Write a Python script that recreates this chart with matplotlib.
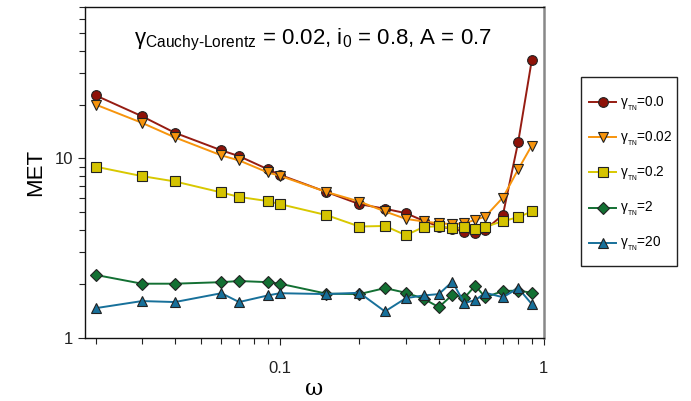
import matplotlib
matplotlib.use("Agg")
import matplotlib.pyplot as plt
from matplotlib.patches import Rectangle
from matplotlib.ticker import LogLocator, NullFormatter, FixedLocator, FixedFormatter

plt.rcParams['font.family'] = ['Liberation Sans', 'DejaVu Sans']
plt.rcParams['mathtext.fontset'] = 'custom'
plt.rcParams['mathtext.rm'] = 'Liberation Sans'
plt.rcParams['mathtext.it'] = 'Liberation Sans'
plt.rcParams['mathtext.default'] = 'regular'

omega = [0.02, 0.03, 0.04, 0.06, 0.07, 0.09, 0.1, 0.15, 0.2, 0.25, 0.3, 0.35,
         0.4, 0.45, 0.5, 0.55, 0.6, 0.7, 0.8, 0.9]

met_00 = [22.5, 17.2, 13.9, 11.1, 10.3, 8.7, 8.1, 6.5, 5.56, 5.24, 4.95, 4.49,
          4.17, 4.05, 3.91, 3.83, 4.0, 4.85, 12.4, 35.3]
met_002 = [20.0, 15.8, 13.1, 10.4, 9.75, 8.35, 8.0, 6.5, 5.75, 5.06, 4.6, 4.45,
           4.35, 4.3, 4.35, 4.54, 4.74, 6.05, 8.7, 11.8]
met_02 = [9.0, 7.97, 7.44, 6.46, 6.1, 5.78, 5.56, 4.83, 4.17, 4.2, 3.73, 4.14,
          4.19, 4.08, 4.12, 4.03, 4.15, 4.47, 4.7, 5.06]
met_2 = [2.24, 2.0, 2.0, 2.04, 2.07, 2.04, 2.0, 1.76, 1.75, 1.89, 1.78, 1.65,
         1.48, 1.73, 1.67, 1.95, 1.68, 1.82, 1.83, 1.78]
met_20 = [1.46, 1.6, 1.58, 1.77, 1.58, 1.72, 1.77, 1.75, 1.78, 1.4, 1.66, 1.72,
          1.75, 2.05, 1.56, 1.62, 1.78, 1.68, 1.89, 1.54]

labels = [r'$\gamma_{_{TN}}$=0.0', r'$\gamma_{_{TN}}$=0.02', r'$\gamma_{_{TN}}$=0.2',
          r'$\gamma_{_{TN}}$=2', r'$\gamma_{_{TN}}$=20']

fig = plt.figure(figsize=(6.91, 4.01), dpi=100)
ax = fig.add_axes([0.1226, 0.158, 0.787 - 0.1226, 0.9825 - 0.158])

series = [
    (met_00, 'o', '#961c12', '#8e1208', 7),
    (met_002, 'v', '#f7940c', '#f7940c', 7),
    (met_02, 's', '#d8c800', '#d4c300', 6.5),
    (met_2, 'D', '#137033', '#137033', 6),
    (met_20, '^', '#17709a', '#17709a', 7),
]
for (vals, mk, lc, fc, ms), lab in zip(series, labels):
    ax.plot(omega, vals, color=lc, marker=mk, markerfacecolor=fc,
            markeredgecolor='#222222', markeredgewidth=0.8, markersize=ms,
            linewidth=1.4, label=lab)

ax.set_xscale('log')
ax.set_yscale('log')
ax.set_xlim(0.0182, 1.0)
ax.set_ylim(1, 70)

ax.xaxis.set_major_locator(FixedLocator([0.1, 1]))
ax.xaxis.set_major_formatter(FixedFormatter(['0.1', '1']))
ax.xaxis.set_minor_locator(LogLocator(base=10, subs=range(2, 10)))
ax.xaxis.set_minor_formatter(NullFormatter())
ax.yaxis.set_major_locator(FixedLocator([1, 10]))
ax.yaxis.set_major_formatter(FixedFormatter(['1', '10']))
ax.yaxis.set_minor_locator(LogLocator(base=10, subs=range(2, 10)))
ax.yaxis.set_minor_formatter(NullFormatter())

ax.tick_params(which='both', direction='out', labelsize=12, colors='#222222')
ax.tick_params(which='major', length=5, width=0.8)
ax.tick_params(which='minor', length=4, width=0.8)
ax.tick_params(axis='x', which='both', pad=12)

for s in ['left', 'bottom', 'top']:
    ax.spines[s].set_color('#111111')
    ax.spines[s].set_linewidth(1.0)
ax.spines['right'].set_color('#888888')
ax.spines['right'].set_linewidth(1.8)

ax.set_xlabel('ω', fontsize=16, family='DejaVu Serif', labelpad=1)
ax.set_ylabel('MET', fontsize=16, labelpad=6)

ax.text(0.498, 0.9, r'$\gamma_{Cauchy\text{-}Lorentz}$ = 0.02, i$_0$ = 0.8, A = 0.7',
        transform=ax.transAxes, ha='center', va='center', fontsize=16)

leg = fig.legend(loc='upper left', bbox_to_anchor=(589 / 691, 1 - 95 / 401),
                 frameon=False, fontsize=9.8, handlelength=2.0,
                 handletextpad=0.25, labelspacing=1.25, borderpad=0,
                 borderaxespad=0)

fig.patches.append(Rectangle((581 / 691, 1 - 266 / 401), 96 / 691, 189 / 401,
                             transform=fig.transFigure, fill=False,
                             edgecolor='#222222', linewidth=1.0))

fig.savefig('out.png', dpi=100)
